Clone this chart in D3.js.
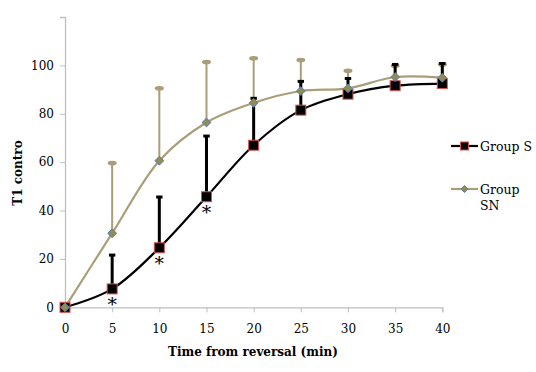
<!DOCTYPE html>
<html>
<head>
<meta charset="utf-8">
<script src="https://cdn.jsdelivr.net/npm/d3@7"></script>
<style>
body { margin: 0; background: #fff; }
svg text { font-family: "DejaVu Serif", serif; }
</style>
</head>
<body>
<svg class="chart" width="536" height="372"></svg>
<script>
var times = [0, 5, 10, 15, 20, 25, 30, 35, 40];
var groupS = [0, 7.6, 24.6, 45.7, 67, 81.5, 88.1, 91.6, 92.5];
var groupSErr = [0, 22, 46, 71.2, 86.8, 93.8, 95, 100.8, 101.2];
var groupSN = [0, 30.6, 60.6, 76.4, 84.5, 89.4, 90.5, 95.2, 94.9];
var groupSNErr = [0, 59.6, 90.5, 101.4, 102.9, 102.2, 97.8, 99.8, 100.4];
var starTimes = [5, 10, 15];
var yTicks = [0, 20, 40, 60, 80, 100];

var svg = d3.select('.chart');
var axisColor = '#bfbfbf';
var snColor = '#a99e78';
var serif = '"DejaVu Serif", serif';

var xScale = d3.scaleLinear().domain([0, 40]).range([65, 442.3]);
var yScale = d3.scaleLinear().domain([0, 120]).range([307.3, 17]);

// axes
var yAxis = d3.axisLeft(yScale).tickValues(yTicks).tickSize(5).tickPadding(6);
var xAxis = d3.axisBottom(xScale).tickValues(times).tickSize(5).tickPadding(12);

var gy = svg.append('g').attr('transform', 'translate(65,0)').call(yAxis);
var gx = svg.append('g').attr('transform', 'translate(0,307.3)').call(xAxis);
[gx, gy].forEach(function(g){
  g.attr('font-family', serif).attr('font-size', 12);
  g.select('.domain').attr('stroke', axisColor).attr('stroke-width', 1.3);
  g.selectAll('.tick line').attr('stroke', axisColor);
  g.selectAll('.tick text').attr('fill', '#000');
});

svg.append('text').attr('x', 253).attr('y', 356).attr('text-anchor', 'middle')
  .attr('font-family', serif).attr('font-size', 12).attr('font-weight', 'bold')
  .text('Time from reversal (min)');
svg.append('text').attr('transform', 'translate(22,173) rotate(-90)').attr('text-anchor', 'middle')
  .attr('font-family', serif).attr('font-size', 12).attr('font-weight', 'bold')
  .text('T1 contro');

var makeData = function(vals, errs){
  return times.map(function(t, i){ return {x: t, y: vals[i], e: errs[i]}; });
};
var dataS = makeData(groupS, groupSErr);
var dataSN = makeData(groupSN, groupSNErr);

var line = d3.line()
  .curve(d3.curveCatmullRom.alpha(0.5))
  .x(function(d){ return xScale(d.x); })
  .y(function(d){ return yScale(d.y); });

// SN error bars
var snErr = svg.append('g');
dataSN.filter(function(d){ return d.e > d.y; }).forEach(function(d){
  snErr.append('line').attr('x1', xScale(d.x)).attr('x2', xScale(d.x))
    .attr('y1', yScale(d.y)).attr('y2', yScale(d.e))
    .attr('stroke', snColor).attr('stroke-width', 2);
  snErr.append('ellipse').attr('cx', xScale(d.x)).attr('cy', yScale(d.e))
    .attr('rx', 4.5).attr('ry', 2.3).attr('fill', snColor);
});

// S error bars
var sErr = svg.append('g');
dataS.filter(function(d){ return d.e > d.y; }).forEach(function(d){
  sErr.append('line').attr('x1', xScale(d.x)).attr('x2', xScale(d.x))
    .attr('y1', yScale(d.y)).attr('y2', yScale(d.e))
    .attr('stroke', '#000').attr('stroke-width', 3);
  sErr.append('line').attr('x1', xScale(d.x) - 3.2).attr('x2', xScale(d.x) + 3.2)
    .attr('y1', yScale(d.e) + 1).attr('y2', yScale(d.e) + 1)
    .attr('stroke', '#000').attr('stroke-width', 3);
});

// lines
svg.append('path').attr('d', line(dataS)).attr('fill', 'none')
  .attr('stroke', '#000').attr('stroke-width', 2.2);
svg.append('path').attr('d', line(dataSN)).attr('fill', 'none')
  .attr('stroke', snColor).attr('stroke-width', 2.2);

// markers
var square = function(g, x, y, s){
  g.append('rect').attr('x', x - s / 2).attr('y', y - s / 2).attr('width', s).attr('height', s)
    .attr('fill', '#000').attr('stroke', '#d9534f').attr('stroke-width', 1);
};
var diamond = function(g, x, y, a){
  g.append('path').attr('d', d3.symbol(d3.symbolDiamond2, a)())
    .attr('transform', 'translate(' + x + ',' + y + ')')
    .attr('fill', '#948a54').attr('stroke', '#4f81bd').attr('stroke-width', 1);
};
var mS = svg.append('g');
dataS.forEach(function(d){ square(mS, xScale(d.x), yScale(d.y), 10); });
var mSN = svg.append('g');
dataSN.forEach(function(d){ diamond(mSN, xScale(d.x), yScale(d.y), 50); });

// significance stars
dataS.filter(function(d){ return starTimes.indexOf(d.x) >= 0; }).forEach(function(d){
  svg.append('text').attr('x', xScale(d.x)).attr('y', yScale(d.y) + 22)
    .attr('text-anchor', 'middle').attr('font-family', serif).attr('font-size', 19).text('*');
});

// legend
var leg = svg.append('g').attr('font-family', serif).attr('font-size', 12.5);
leg.append('line').attr('x1', 451).attr('x2', 478).attr('y1', 146).attr('y2', 146)
  .attr('stroke', '#000').attr('stroke-width', 2.2);
square(leg, 464.5, 146, 8);
leg.append('text').attr('x', 480).attr('y', 150.5).text('Group S');
leg.append('line').attr('x1', 451).attr('x2', 478).attr('y1', 189).attr('y2', 189)
  .attr('stroke', snColor).attr('stroke-width', 2.2);
diamond(leg, 464.5, 189, 32);
leg.append('text').attr('x', 480).attr('y', 193.5).text('Group');
leg.append('text').attr('x', 480).attr('y', 209.5).text('SN');
</script>
</body>
</html>
